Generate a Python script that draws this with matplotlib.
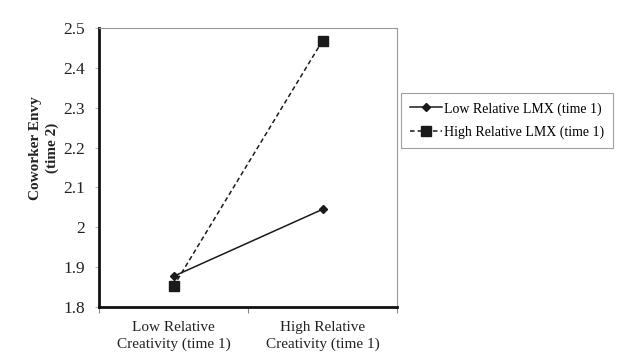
import matplotlib
matplotlib.use("Agg")
import matplotlib.pyplot as plt

categories = ["Low Relative\nCreativity (time 1)", "High Relative\nCreativity (time 1)"]
low_lmx = [1.877, 2.045]
high_lmx = [1.852, 2.468]
yticks = [1.8, 1.9, 2.0, 2.1, 2.2, 2.3, 2.4, 2.5]
ytick_labels = ["1.8", "1.9", "2", "2.1", "2.2", "2.3", "2.4", "2.5"]

plt.rcParams['font.family'] = ['Liberation Serif', 'DejaVu Serif']

fig = plt.figure(figsize=(6.24, 3.58), dpi=100)
ax = fig.add_axes([99/624, 1 - 307/358, 298/624, 279/358])

x = list(range(len(categories)))
ax.plot(x, low_lmx, color='#1a1a1a', lw=1.1, marker='D', ms=4.5,
        label='Low Relative LMX (time 1)')
ax.plot(x, high_lmx, color='#1a1a1a', lw=1.1, ls=(0, (3, 2)), marker='s', ms=7,
        label='High Relative LMX (time 1)')

ax.set_xlim(-0.5, 1.5)
ax.set_ylim(1.8, 2.5)
ax.set_yticks(yticks)
ax.set_yticklabels(ytick_labels, fontsize=12.5, color='#222222')
ax.set_xticks([-0.5, 0.5, 1.5])
ax.set_xticklabels(["", "", ""])
ax.set_xticks(x, minor=True)
ax.set_xticklabels(categories, minor=True, fontsize=11, color='#222222',
                   linespacing=1.35)
ax.tick_params(axis='x', which='minor', length=0, pad=10)
ax.tick_params(axis='x', which='major', length=4, direction='out', color='#888888')
ax.tick_params(axis='y', length=3, direction='out', color='#bbbbbb', pad=7)

ax.spines['left'].set_linewidth(2)
ax.spines['left'].set_color('#111111')
ax.spines['bottom'].set_linewidth(2)
ax.spines['bottom'].set_color('#111111')
ax.spines['top'].set_color('#999999')
ax.spines['right'].set_color('#999999')

ax.set_ylabel("Coworker Envy\n(time 2)", fontsize=11, fontweight='bold',
              color='#222222', linespacing=1.3)
ax.yaxis.set_label_coords(-0.135, 0.57)

leg = ax.legend(loc='upper left', bbox_to_anchor=(401/624, 1 - 93/358),
                bbox_transform=fig.transFigure, frameon=True, fancybox=False,
                fontsize=10, handlelength=2.3, borderpad=0.65, labelspacing=0.7,
                handletextpad=0.15, borderaxespad=0)
leg.get_frame().set_edgecolor('#888888')
leg.get_frame().set_linewidth(0.8)

fig.savefig("out.png", dpi=100)
